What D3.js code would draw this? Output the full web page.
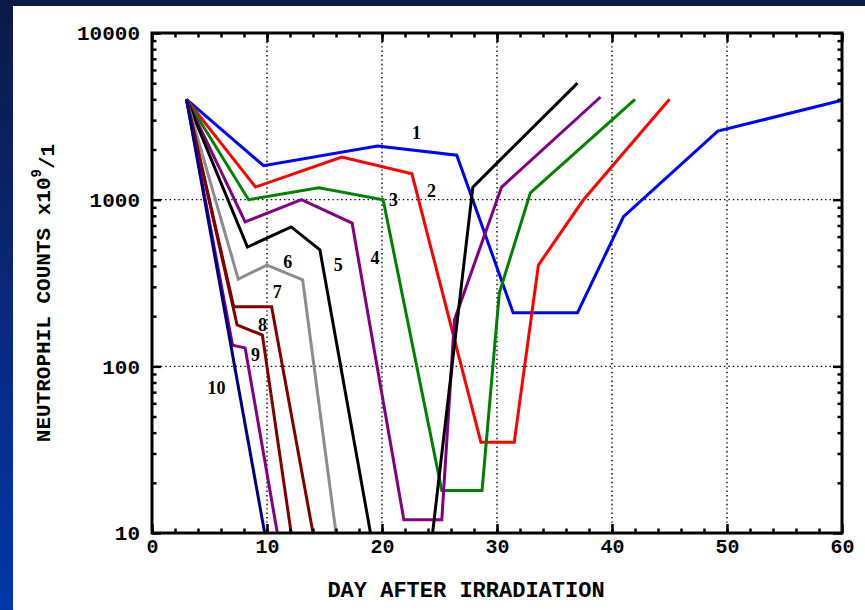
<!DOCTYPE html>
<html>
<head>
<meta charset="utf-8">
<script src="https://cdn.jsdelivr.net/npm/d3@7"></script>
<style>
  html, body { margin: 0; padding: 0; }
  body { width: 865px; height: 610px; overflow: hidden; background: #0b1a46; }
  svg { display: block; }
</style>
</head>
<body>
<svg id="chart" width="865" height="610"></svg>
<script>
// Neutrophil counts after irradiation, one curve per dose group (1 = lowest dose)
const curveNames = ["1", "2", "3", "4", "5", "6", "7", "8", "9", "10"];
const curveColors = ["#0000ff", "#ff0000", "#008000", "#800080", "#000000",
                     "#8c8c8c", "#800000", "#800000", "#800080", "#000080"];

// day after irradiation (null = curve below the plotted range)
const days1 = [3, 9.7, 19.6, 26.5, 31.4, 37, 41, 49.2, 60];
const counts1 = [4000, 1600, 2100, 1850, 210, 210, 790, 2580, 3950];
const days2 = [3, 9, 16.5, 22.6, 28.6, 31.5, 33.6, 37.5, 45];
const counts2 = [4000, 1190, 1800, 1430, 35, 35, 405, 995, 4000];
const days3 = [3, 8.4, 14.5, 20.1, 25.2, 28.7, 30.2, 32.9, 42];
const counts3 = [4000, 1000, 1180, 1000, 18, 18, 275, 1100, 4000];
const days4 = [3, 8.1, 13, 17.4, 21.9, 25.2, 26.3, 30.4, 39];
const counts4 = [4000, 735, 1000, 724, 12, 12, 190, 1190, 4130];
const days5 = [3, 8.3, 12.1, 14.6, 19.0, null, 24.4, 27.9, 37];
const counts5 = [4000, 520, 686, 500, 10, null, 10, 1190, 5000];
const days6 = [3, 7.5, 10, 13.1, 16];
const counts6 = [4000, 334, 405, 330, 10];
const days7 = [3, 7.1, 10.4, 14];
const counts7 = [4000, 228, 228, 10];
const days8 = [3, 7.4, 9.6, 12.1];
const counts8 = [4000, 177, 154, 10];
const days9 = [3, 7.0, 8.1, 10.9];
const counts9 = [4000, 134, 129, 10];
const days10 = [3, 9.8];
const counts10 = [4000, 10];

const allDays = [days1, days2, days3, days4, days5, days6, days7, days8, days9, days10];
const allCounts = [counts1, counts2, counts3, counts4, counts5, counts6, counts7, counts8, counts9, counts10];

// where each curve number is written [day, count]
const labelDays = [23.0, 24.3, 21.0, 19.4, 16.2, 11.8, 10.9, 9.6, 9.0, 5.6];
const labelCounts = [2500, 1130, 995, 447, 406, 423, 279, 177, 117, 74];

const xTicks = [0, 10, 20, 30, 40, 50, 60];
const xMinorTicks = d3.range(0, 61, 2);
const yTicks = [10, 100, 1000, 10000];
const xTitle = "DAY AFTER IRRADIATION";

const svg = d3.select("#chart");

// backdrop: dark frame with a blue gradient strip on the left, white panel
const defs = svg.append("defs");
const grad = defs.append("linearGradient").attr("id", "strip")
  .attr("x1", 0).attr("y1", 0).attr("x2", 0).attr("y2", 1);
grad.append("stop").attr("offset", "0%").attr("stop-color", "#0b1a46");
grad.append("stop").attr("offset", "55%").attr("stop-color", "#0a2a80");
grad.append("stop").attr("offset", "100%").attr("stop-color", "#0037a8");
svg.append("rect").attr("x", 0).attr("y", 0).attr("width", 865).attr("height", 610).attr("fill", "#0b1a46");
svg.append("rect").attr("x", 0).attr("y", 0).attr("width", 13).attr("height", 610).attr("fill", "url(#strip)");
svg.append("rect").attr("x", 13).attr("y", 6).attr("width", 852).attr("height", 604).attr("fill", "#ffffff");

const plotLeft = 152, plotRight = 842, plotTop = 33, plotBottom = 533;
const x = d3.scaleLinear().domain([0, 60]).range([plotLeft, plotRight]);
const y = d3.scaleLog().domain([10, 10000]).range([plotBottom, plotTop]);

const monoFont = "'Liberation Mono', 'DejaVu Sans Mono', monospace";

// dotted grid at the major ticks
const grid = svg.append("g");
grid.selectAll("line.gx").data(xTicks.slice(1, -1)).join("line")
  .attr("x1", d => x(d)).attr("x2", d => x(d)).attr("y1", plotTop).attr("y2", plotBottom)
  .attr("stroke", "#000").attr("stroke-width", 1.4).attr("stroke-dasharray", "1.4,3");
grid.selectAll("line.gy").data(yTicks.slice(1, -1)).join("line")
  .attr("x1", plotLeft).attr("x2", plotRight).attr("y1", d => y(d)).attr("y2", d => y(d))
  .attr("stroke", "#000").attr("stroke-width", 1.4).attr("stroke-dasharray", "1.4,3");

// curves
const line = d3.line()
  .defined(d => d[0] !== null)
  .x(d => x(d[0])).y(d => y(d[1]));
const curves = svg.append("g").attr("fill", "none").attr("stroke-width", 3).attr("stroke-linejoin", "miter");
allDays.forEach((ds, i) => {
  const pts = ds.map((d, j) => [d, allCounts[i][j]]);
  curves.append("path").datum(pts).attr("d", line).attr("stroke", curveColors[i]);
});

// curve numbers
svg.append("g").selectAll("text").data(curveNames).join("text")
  .attr("x", (d, i) => x(labelDays[i])).attr("y", (d, i) => y(labelCounts[i]))
  .attr("text-anchor", "middle").attr("dominant-baseline", "central")
  .attr("font-family", "'Liberation Serif', 'Times New Roman', serif")
  .attr("font-weight", "bold").attr("font-size", 18).attr("fill", "#000")
  .text(d => d);

// axes with inward ticks on all four sides
function styleAxis(g) {
  g.select(".domain").remove();
  g.selectAll(".tick line").attr("stroke", "#000").attr("stroke-width", 2.5);
}
const yMinor = d3.range(1, 4).flatMap(p => d3.range(2, 10).map(m => m * Math.pow(10, p)));

svg.append("g").attr("transform", `translate(0,${plotBottom})`)
  .call(d3.axisBottom(x).tickValues(xMinorTicks).tickSize(-4.5).tickFormat(""))
  .call(styleAxis);
svg.append("g").attr("transform", `translate(0,${plotTop})`)
  .call(d3.axisTop(x).tickValues(xMinorTicks).tickSize(-4.5).tickFormat(""))
  .call(styleAxis);
svg.append("g").attr("transform", `translate(0,${plotBottom})`)
  .call(d3.axisBottom(x).tickValues(xTicks).tickSize(-9).tickPadding(19).tickFormat(d3.format("d")))
  .call(styleAxis)
  .call(g => g.selectAll("text").attr("font-family", monoFont).attr("font-weight", "bold")
    .attr("font-size", 20).attr("fill", "#000").attr("dy", "0.05em"));
svg.append("g").attr("transform", `translate(0,${plotTop})`)
  .call(d3.axisTop(x).tickValues(xTicks).tickSize(-9).tickFormat(""))
  .call(styleAxis);

svg.append("g").attr("transform", `translate(${plotLeft},0)`)
  .call(d3.axisLeft(y).tickValues(yMinor).tickSize(-4.5).tickFormat(""))
  .call(styleAxis);
svg.append("g").attr("transform", `translate(${plotRight},0)`)
  .call(d3.axisRight(y).tickValues(yMinor).tickSize(-4.5).tickFormat(""))
  .call(styleAxis);
svg.append("g").attr("transform", `translate(${plotLeft},0)`)
  .call(d3.axisLeft(y).tickValues(yTicks).tickSize(-9).tickPadding(12).tickFormat(d3.format("d")))
  .call(styleAxis)
  .call(g => g.selectAll("text").attr("font-family", monoFont).attr("font-weight", "bold")
    .attr("font-size", 21).attr("fill", "#000"));
svg.append("g").attr("transform", `translate(${plotRight},0)`)
  .call(d3.axisRight(y).tickValues(yTicks).tickSize(-9).tickFormat(""))
  .call(styleAxis);

// frame
svg.append("rect").attr("x", plotLeft).attr("y", plotTop)
  .attr("width", plotRight - plotLeft).attr("height", plotBottom - plotTop)
  .attr("fill", "none").attr("stroke", "#000").attr("stroke-width", 3);

// axis titles
svg.append("text").attr("x", 466).attr("y", 591)
  .attr("text-anchor", "middle").attr("dominant-baseline", "central")
  .attr("font-family", monoFont).attr("font-weight", "bold").attr("font-size", 22)
  .attr("fill", "#000").text(xTitle);

const yTitle = svg.append("text")
  .attr("transform", "translate(44,293) rotate(-90)")
  .attr("text-anchor", "middle").attr("dominant-baseline", "central")
  .attr("font-family", monoFont).attr("font-weight", "bold").attr("font-size", 21)
  .attr("fill", "#000");
yTitle.append("tspan").text("NEUTROPHIL COUNTS x10");
yTitle.append("tspan").attr("dy", "-0.5em").attr("font-size", 14).text("9");
yTitle.append("tspan").attr("dy", "0.5em").text("/1");
</script>
</body>
</html>
